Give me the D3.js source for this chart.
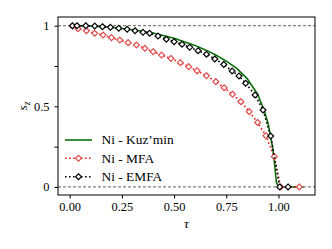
<!DOCTYPE html>
<html>
<head>
<meta charset="utf-8">
<script src="https://cdn.jsdelivr.net/npm/d3@7"></script>
<style>
  body { margin: 0; background: #fff; }
</style>
</head>
<body>
<div id="chart"></div>
<script>
// Kuz'min 曲線
const tauKuz = [0.013, 0.1, 0.2, 0.3, 0.4, 0.5, 0.6, 0.65, 0.7, 0.75, 0.8, 0.85, 0.9, 0.93, 0.95, 0.97, 0.98, 0.99, 1.0, 1.12];
const sKuz = [1.0, 0.998, 0.99, 0.975, 0.955, 0.922, 0.878, 0.85, 0.818, 0.78, 0.735, 0.672, 0.575, 0.48, 0.395, 0.26, 0.16, 0.03, 0.0, 0.0];

// MFA 數據
const tauMFA = [0.013, 0.04, 0.08, 0.12, 0.16, 0.20, 0.24, 0.28, 0.32, 0.36, 0.40, 0.44, 0.485, 0.53, 0.57, 0.61, 0.655, 0.70, 0.74, 0.78, 0.82, 0.86, 0.90, 0.94, 0.98, 1.01, 1.10];
const sMFA = [0.998, 0.981, 0.969, 0.953, 0.942, 0.926, 0.911, 0.895, 0.880, 0.860, 0.839, 0.818, 0.797, 0.771, 0.746, 0.720, 0.690, 0.653, 0.615, 0.575, 0.529, 0.467, 0.400, 0.318, 0.188, 0.0, 0.0];

// EMFA 數據
const tauEMFA = [0.013, 0.035, 0.077, 0.12, 0.157, 0.195, 0.235, 0.275, 0.313, 0.351, 0.383, 0.423, 0.463, 0.50, 0.538, 0.575, 0.615, 0.655, 0.695, 0.738, 0.778, 0.811, 0.843, 0.888, 0.926, 0.963, 1.006, 1.046];
const sEMFA = [1.0, 1.0, 1.0, 0.998, 0.994, 0.99, 0.984, 0.978, 0.969, 0.959, 0.953, 0.936, 0.916, 0.901, 0.885, 0.866, 0.845, 0.823, 0.794, 0.760, 0.719, 0.688, 0.643, 0.570, 0.477, 0.316, 0.0, 0.0];

// 刻度
const xTicks = [0, 0.25, 0.5, 0.75, 1.0];
const yTicks = [0, 0.25, 0.5, 0.75, 1.0];
const yTickLabels = { 0: "0", 0.5: "0.5", 1: "1" };
const legendLabels = ["Ni - Kuz\u2019min", "Ni - MFA", "Ni - EMFA"];

const FONT = "Liberation Serif";
const width = 332, height = 249;
const margin = { top: 17, right: 17, bottom: 54, left: 58 };

const svg = d3.select("#chart")
    .append("svg")
    .attr("width", width)
    .attr("height", height);

const xScale = d3.scaleLinear()
    .domain([-0.056, 1.175])
    .range([margin.left, width - margin.right]);

const yScale = d3.scaleLinear()
    .domain([-0.05, 1.054])
    .range([height - margin.bottom, margin.top]);

// 參考虛線 (y = 0, y = 1)
[0, 1].forEach(v => {
    svg.append("line")
        .attr("x1", xScale.range()[0])
        .attr("x2", xScale.range()[1])
        .attr("y1", yScale(v))
        .attr("y2", yScale(v))
        .attr("stroke", "#808080")
        .attr("stroke-width", 1.3)
        .attr("stroke-dasharray", "3 2");
});

const line = d3.line()
    .x(d => xScale(d[0]))
    .y(d => yScale(d[1]));

const diamond = d3.symbol().type(d3.symbolDiamond2).size(22);

// Kuz'min
svg.append("path")
    .datum(d3.zip(tauKuz, sKuz))
    .attr("fill", "none")
    .attr("stroke", "#0a6e0a")
    .attr("stroke-width", 1.6)
    .attr("d", line);

// MFA 與 EMFA
function drawSeries(taus, vals, lineColor, markColor) {
    const data = d3.zip(taus, vals);
    svg.append("path")
        .datum(data)
        .attr("fill", "none")
        .attr("stroke", lineColor)
        .attr("stroke-width", 1.6)
        .attr("stroke-dasharray", "1.6 2.4")
        .attr("d", line);
    svg.selectAll(null)
        .data(data)
        .enter()
        .append("path")
        .attr("d", diamond)
        .attr("transform", d => `translate(${xScale(d[0])},${yScale(d[1])})`)
        .attr("fill", "white")
        .attr("stroke", markColor)
        .attr("stroke-width", 1.2);
}
drawSeries(tauMFA, sMFA, "#ee1c1c", "#e04a4a");
drawSeries(tauEMFA, sEMFA, "#000", "#000");

// 框線
svg.append("rect")
    .attr("x", xScale.range()[0])
    .attr("y", yScale.range()[1])
    .attr("width", xScale.range()[1] - xScale.range()[0])
    .attr("height", yScale.range()[0] - yScale.range()[1])
    .attr("fill", "none")
    .attr("stroke", "#000")
    .attr("stroke-width", 1);

// X 軸
const xAxis = svg.append("g")
    .attr("transform", `translate(0,${yScale.range()[0]})`)
    .call(d3.axisBottom(xScale).tickValues(xTicks).tickFormat(d3.format(".2f")).tickSize(3.5).tickPadding(4));

// Y 軸
const yAxis = svg.append("g")
    .attr("transform", `translate(${xScale.range()[0]},0)`)
    .call(d3.axisLeft(yScale).tickValues(yTicks).tickFormat(d => yTickLabels[d] || "").tickSize(3.5).tickPadding(5));

[xAxis, yAxis].forEach(g => {
    g.attr("font-family", FONT).attr("font-size", 12.4);
    g.select(".domain").remove();
    g.selectAll("line").attr("stroke", "#000");
    g.selectAll("text").attr("fill", "#000");
});

// 軸標題
svg.append("text")
    .attr("x", (xScale.range()[0] + xScale.range()[1]) / 2)
    .attr("y", 228)
    .attr("text-anchor", "middle")
    .attr("font-family", FONT)
    .attr("font-size", 13.5)
    .attr("font-style", "italic")
    .text("\u03c4");

svg.append("text")
    .attr("transform", `translate(27,${(yScale.range()[0] + yScale.range()[1]) / 2}) rotate(-90)`)
    .attr("text-anchor", "middle")
    .attr("font-family", FONT)
    .attr("font-size", 13.5)
    .attr("font-style", "italic")
    .html('s<tspan dy="2.5" font-size="9.5">z</tspan>');

// 圖例
const legendY = [140, 158.3, 176.7];
const legendStyles = [
    { color: "#0a6e0a", dash: null, mark: null },
    { color: "#ee1c1c", dash: "1.6 2.4", mark: "#e04a4a" },
    { color: "#000", dash: "1.6 2.4", mark: "#000" }
];
legendLabels.forEach((label, i) => {
    const st = legendStyles[i];
    svg.append("line")
        .attr("x1", 65).attr("x2", 92)
        .attr("y1", legendY[i]).attr("y2", legendY[i])
        .attr("stroke", st.color)
        .attr("stroke-width", 1.6)
        .attr("stroke-dasharray", st.dash);
    if (st.mark) {
        svg.append("path")
            .attr("d", diamond)
            .attr("transform", `translate(78.5,${legendY[i]})`)
            .attr("fill", "white")
            .attr("stroke", st.mark)
            .attr("stroke-width", 1.2);
    }
    svg.append("text")
        .attr("x", 101.5)
        .attr("y", legendY[i] + 4.3)
        .attr("font-family", FONT)
        .attr("font-size", 13.4)
        .text(label);
});
</script>
</body>
</html>
